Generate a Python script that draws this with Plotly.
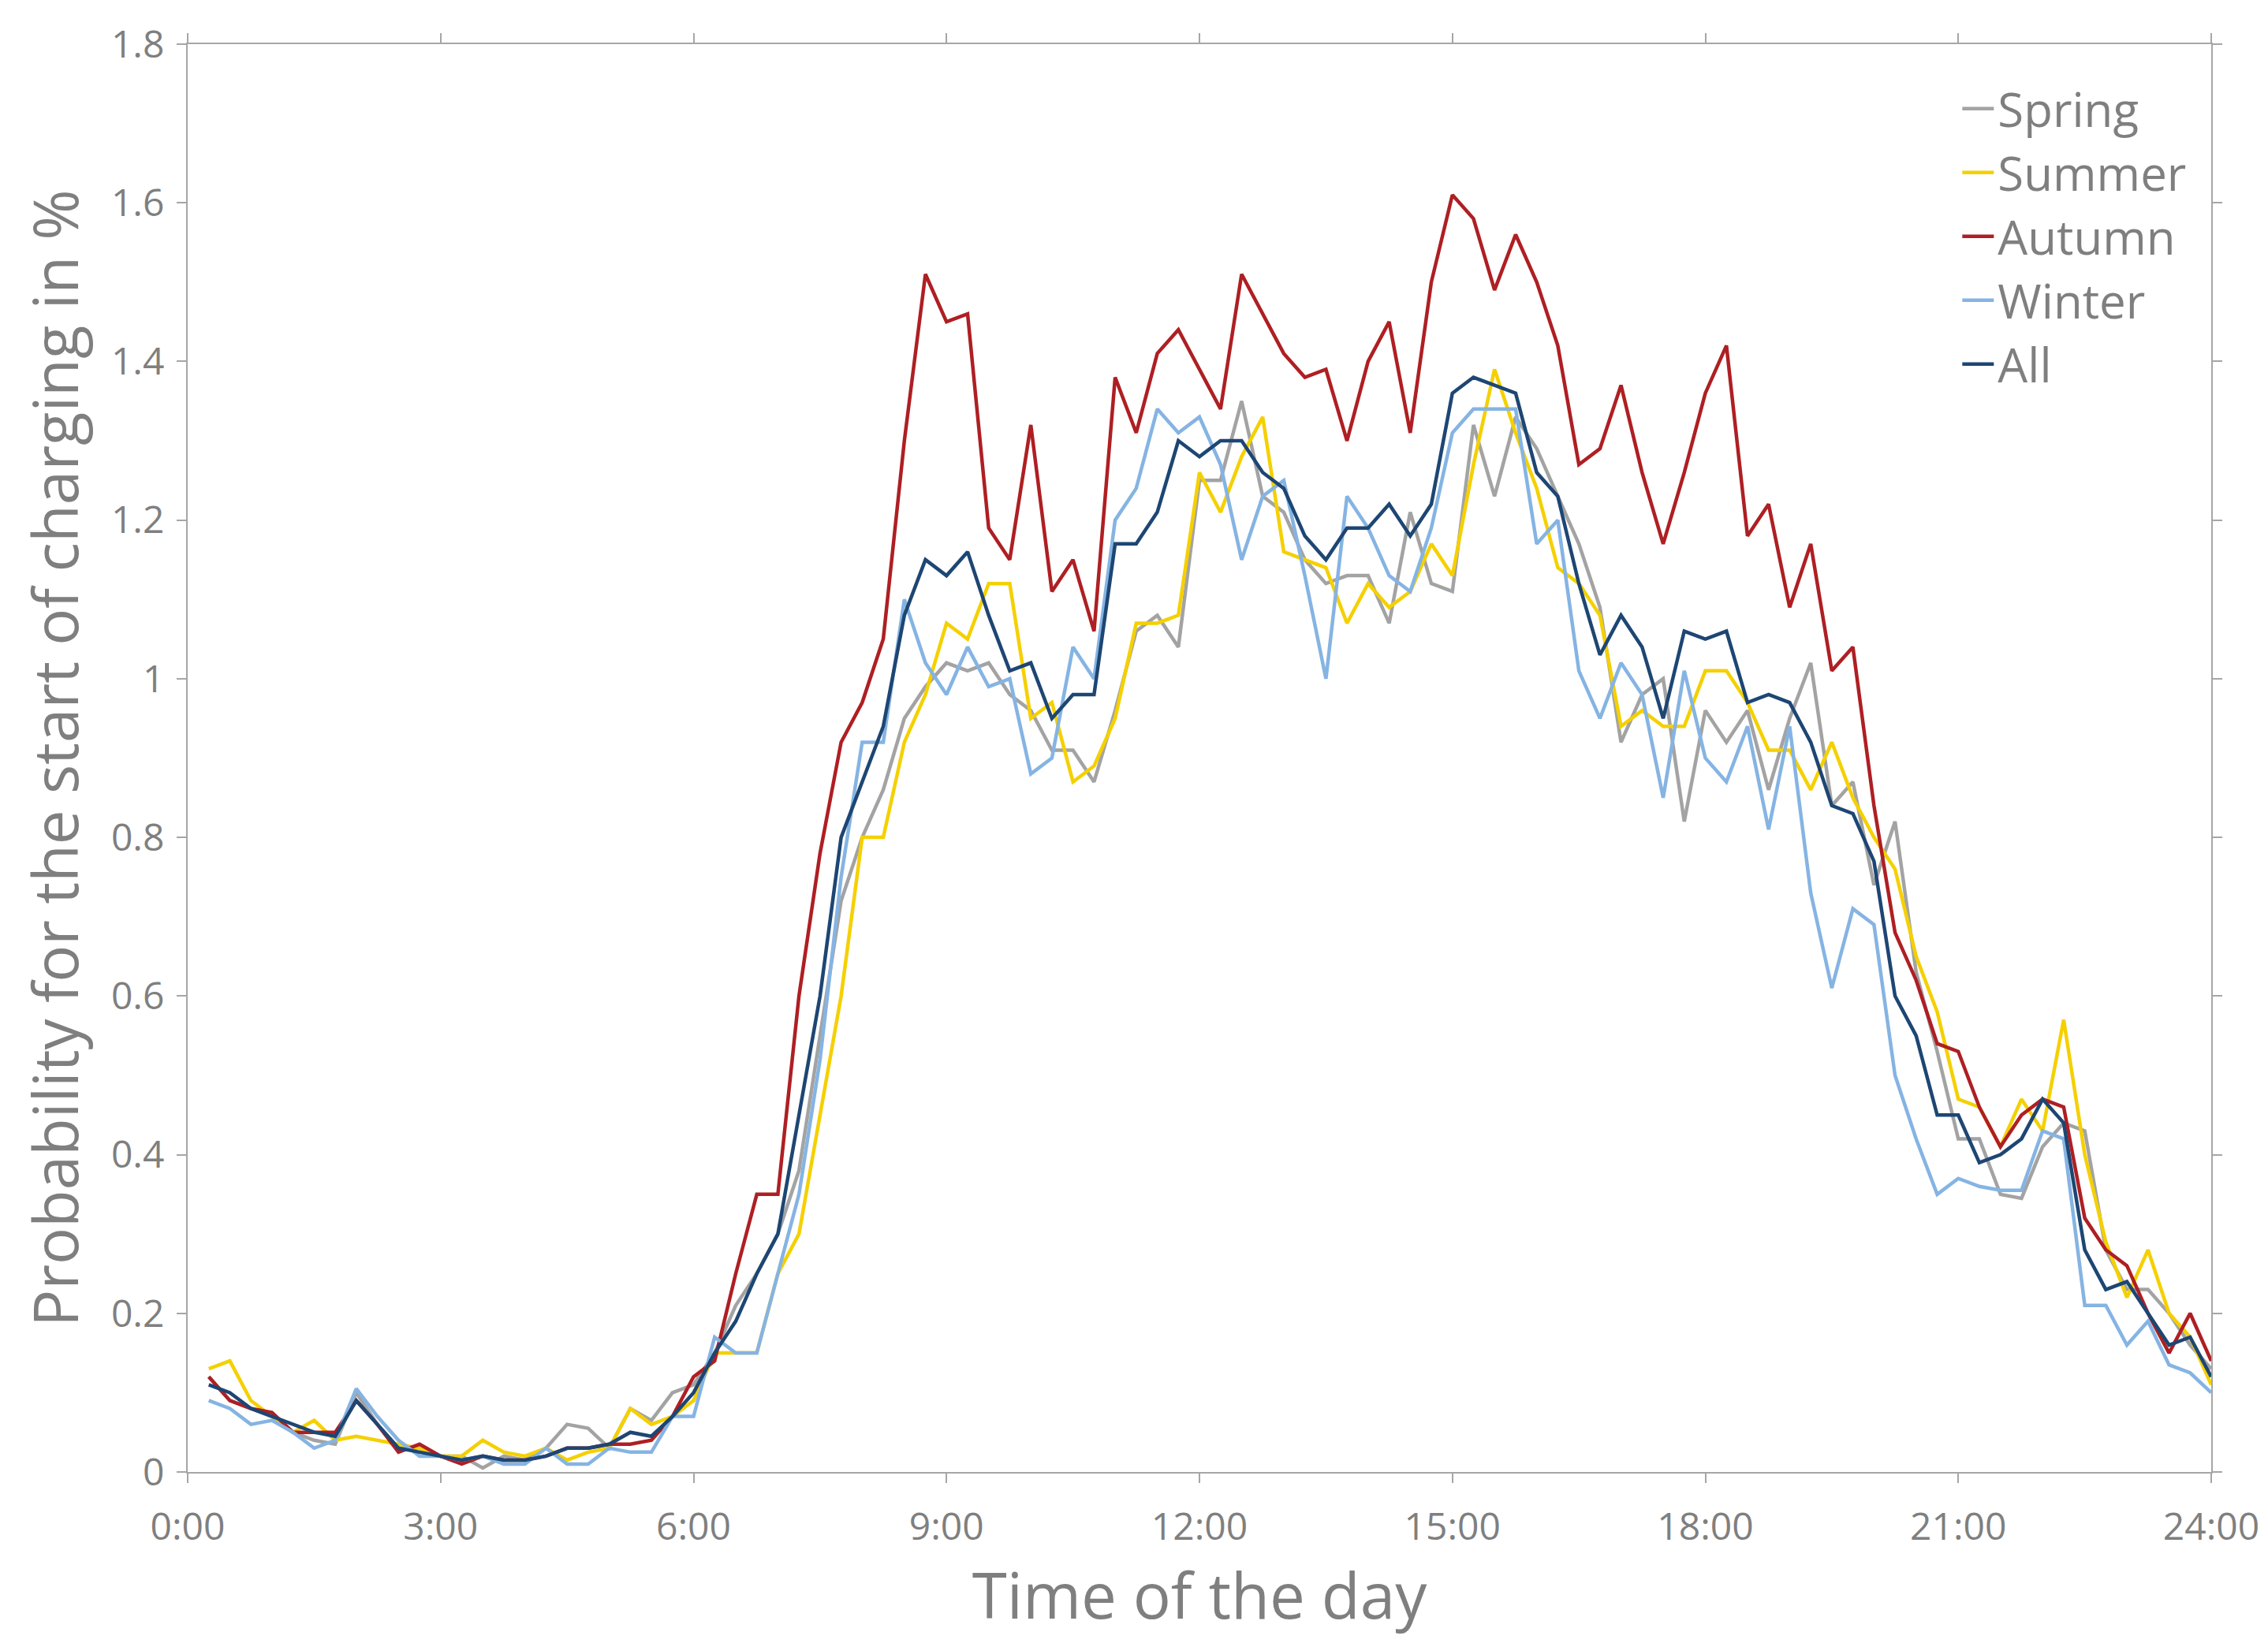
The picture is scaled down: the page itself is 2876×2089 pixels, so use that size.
import plotly.graph_objects as go

hours = [0.25 * i for i in range(1, 97)]

spring = [0.12,0.09,0.08,0.07, 0.05,0.04,0.035,0.10, 0.06,0.03,0.03,0.02, 0.02,0.005,0.02,0.015,
          0.03,0.06,0.055,0.03, 0.08,0.065,0.10,0.11, 0.15,0.21,0.25,0.30, 0.38,0.55,0.72,0.80,
          0.86,0.95,0.99,1.02, 1.01,1.02,0.98,0.96, 0.91,0.91,0.87,0.96, 1.06,1.08,1.04,1.25,
          1.25,1.35,1.23,1.21, 1.15,1.12,1.13,1.13, 1.07,1.21,1.12,1.11, 1.32,1.23,1.33,1.29,
          1.23,1.17,1.09,0.92, 0.98,1.00,0.82,0.96, 0.92,0.96,0.86,0.95, 1.02,0.84,0.87,0.74,
          0.82,0.63,0.53,0.42, 0.42,0.35,0.345,0.41, 0.44,0.43,0.28,0.23, 0.23,0.20,0.16,0.13]
summer = [0.13,0.14,0.09,0.07, 0.05,0.065,0.04,0.045, 0.04,0.035,0.03,0.02, 0.02,0.04,0.025,0.02,
          0.03,0.015,0.025,0.03, 0.08,0.06,0.07,0.09, 0.15,0.15,0.15,0.25, 0.30,0.45,0.60,0.80,
          0.80,0.92,0.98,1.07, 1.05,1.12,1.12,0.95, 0.97,0.87,0.89,0.95, 1.07,1.07,1.08,1.26,
          1.21,1.28,1.33,1.16, 1.15,1.14,1.07,1.12, 1.09,1.11,1.17,1.13, 1.27,1.39,1.31,1.24,
          1.14,1.12,1.08,0.94, 0.96,0.94,0.94,1.01, 1.01,0.97,0.91,0.91, 0.86,0.92,0.85,0.80,
          0.76,0.65,0.58,0.47, 0.46,0.41,0.47,0.43, 0.57,0.40,0.29,0.22, 0.28,0.20,0.17,0.11]
autumn = [0.12,0.09,0.08,0.075, 0.05,0.05,0.05,0.09, 0.06,0.025,0.035,0.02, 0.01,0.02,0.015,0.015,
          0.02,0.03,0.03,0.035, 0.035,0.04,0.07,0.12, 0.14,0.25,0.35,0.35, 0.60,0.78,0.92,0.97,
          1.05,1.30,1.51,1.45, 1.46,1.19,1.15,1.32, 1.11,1.15,1.06,1.38, 1.31,1.41,1.44,1.39,
          1.34,1.51,1.46,1.41, 1.38,1.39,1.30,1.40, 1.45,1.31,1.50,1.61, 1.58,1.49,1.56,1.50,
          1.42,1.27,1.29,1.37, 1.26,1.17,1.26,1.36, 1.42,1.18,1.22,1.09, 1.17,1.01,1.04,0.84,
          0.68,0.62,0.54,0.53, 0.46,0.41,0.45,0.47, 0.46,0.32,0.28,0.26, 0.20,0.15,0.20,0.14]
winter = [0.09,0.08,0.06,0.065, 0.05,0.03,0.04,0.105, 0.07,0.04,0.02,0.02, 0.015,0.02,0.01,0.01,
          0.03,0.01,0.01,0.03, 0.025,0.025,0.07,0.07, 0.17,0.15,0.15,0.25, 0.35,0.52,0.75,0.92,
          0.92,1.10,1.02,0.98, 1.04,0.99,1.00,0.88, 0.90,1.04,1.00,1.20, 1.24,1.34,1.31,1.33,
          1.27,1.15,1.23,1.25, 1.13,1.00,1.23,1.19, 1.13,1.11,1.19,1.31, 1.34,1.34,1.34,1.17,
          1.20,1.01,0.95,1.02, 0.98,0.85,1.01,0.90, 0.87,0.94,0.81,0.94, 0.73,0.61,0.71,0.69,
          0.50,0.42,0.35,0.37, 0.36,0.355,0.355,0.43, 0.42,0.21,0.21,0.16, 0.19,0.135,0.125,0.10]
all_ = [0.11,0.10,0.08,0.07, 0.06,0.05,0.045,0.09, 0.06,0.03,0.025,0.02, 0.015,0.02,0.015,0.015,
        0.02,0.03,0.03,0.035, 0.05,0.045,0.07,0.10, 0.15,0.19,0.25,0.30, 0.45,0.60,0.80,0.87,
        0.94,1.08,1.15,1.13, 1.16,1.08,1.01,1.02, 0.95,0.98,0.98,1.17, 1.17,1.21,1.30,1.28,
        1.30,1.30,1.26,1.24, 1.18,1.15,1.19,1.19, 1.22,1.18,1.22,1.36, 1.38,1.37,1.36,1.26,
        1.23,1.12,1.03,1.08, 1.04,0.95,1.06,1.05, 1.06,0.97,0.98,0.97, 0.92,0.84,0.83,0.77,
        0.60,0.55,0.45,0.45, 0.39,0.40,0.42,0.47, 0.44,0.28,0.23,0.24, 0.20,0.16,0.17,0.12]

names = ["Spring", "Summer", "Autumn", "Winter", "All"]
colors = ["#a3a3a3", "#f5d000", "#ae1f23", "#85b4e3", "#1d4673"]
series = [spring, summer, autumn, winter, all_]

x_ticks = [0, 3, 6, 9, 12, 15, 18, 21, 24]
x_labels = ["0:00", "3:00", "6:00", "9:00", "12:00", "15:00", "18:00", "21:00", "24:00"]
y_ticks = [0, 0.2, 0.4, 0.6, 0.8, 1.0, 1.2, 1.4, 1.6, 1.8]
y_labels = ["0", "0.2", "0.4", "0.6", "0.8", "1", "1.2", "1.4", "1.6", "1.8"]

fig = go.Figure()
for n, c, s in zip(names, colors, series):
    fig.add_trace(go.Scatter(x=hours, y=s, name=n, mode="lines",
                             line=dict(color=c, width=4.5)))

font = "Open Sans, DejaVu Sans, sans-serif"
axis_common = dict(showline=True, linecolor="#a6a6a6", linewidth=2, mirror="ticks",
                   ticks="outside", tickcolor="#a6a6a6", ticklen=12, tickwidth=2,
                   showgrid=False, zeroline=False,
                   tickfont=dict(size=48, color="#7f7f7f", family=font))
fig.update_xaxes(range=[0, 24], tickvals=x_ticks, ticktext=x_labels, ticklabelstandoff=14,
                 title=dict(text="Time of the day", font=dict(size=80, color="#7f7f7f", family=font), standoff=30),
                 **axis_common)
fig.update_yaxes(range=[0, 1.8], tickvals=y_ticks, ticktext=y_labels, ticklabelstandoff=6,
                 title=dict(text="Probability for the start of charging in %", font=dict(size=78, color="#7f7f7f", family=font), standoff=16),
                 **axis_common)
fig.update_layout(width=2876, height=2089, plot_bgcolor="white", paper_bgcolor="white",
                  margin=dict(l=230, r=80, t=48, b=230),
                  legend=dict(x=0.99, y=0.98, xanchor="right", yanchor="top",
                              font=dict(size=60, color="#7f7f7f", family=font),
                              bgcolor="rgba(0,0,0,0)", itemwidth=40, tracegroupgap=0))
fig.write_html("out.html")
